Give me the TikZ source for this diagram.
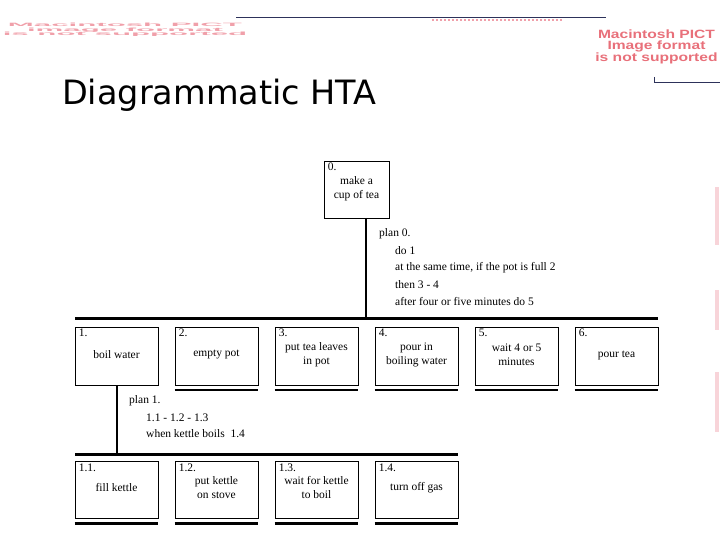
\documentclass[tikz,border=0pt]{standalone}
\usepackage{fontspec}
\setmainfont{Liberation Serif}
\newfontfamily\titlefont{DejaVu Sans}
\newfontfamily\pictfont{Liberation Sans}
\definecolor{pict}{RGB}{232,112,122}
\definecolor{pictlight}{RGB}{240,160,170}
\definecolor{navy}{RGB}{45,50,90}
\begin{document}
\begin{tikzpicture}[x=1pt,y=-1pt,
  taskbox/.style={draw, line width=0.8pt, minimum width=83pt, minimum height=58pt, inner sep=0pt},
  numlabel/.style={anchor=north west, inner sep=0pt, font=\fontsize{11.5}{14}\selectfont},
  tasktext/.style={align=center, inner sep=0pt, font=\fontsize{11.5}{14}\selectfont},
  plantext/.style={anchor=west, inner sep=0pt, font=\fontsize{11.5}{14}\selectfont},
  bar/.style={line width=3pt},
  stem/.style={line width=2.6pt},
  underline/.style={line width=2.6pt},
  picttext/.style={align=center, inner sep=0pt, text=pict, font=\pictfont\bfseries\fontsize{12}{11.5}\selectfont}
]
\useasboundingbox (0,0) rectangle (720,540);

% --- decoration from the slide (placeholder artefacts) ---
\draw[navy, line width=1.5pt] (236,17.5) -- (606,17.5);
\draw[pictlight, line width=2pt, dotted] (432,20.5) -- (562,20.5);
\node[picttext, text=pictlight, xscale=2.6, yscale=0.4] (pictL) at (125,30) {Macintosh PICT\\image format\\is not supported};
\node[picttext, xscale=1.3] (pictR) at (656.5,46.5) {Macintosh PICT\\Image format\\is not supported};
\draw[navy, line width=1pt] (654.5,77) -- (654.5,82.5) -- (720,82.5);
\foreach \ya/\yb in {187/245, 290/330, 372/432}
  \fill[pictlight, opacity=0.45] (714.5,\ya) rectangle (719,\yb);

% --- title ---
\node[anchor=base west, inner sep=0pt, font=\titlefont\fontsize{33.5}{36}\selectfont] (title) at (62,105) {Diagrammatic HTA};

% --- root ---
\node[taskbox, minimum height=57pt, minimum width=65pt] (t0) at (356.5,189.5) {};
\node[numlabel] at ([xshift=4pt,yshift=-2.5pt]t0.north west) {0.};
\node[tasktext] at (356.5,189) {make a\\cup of tea};
\coordinate (s0) at (366,218);
\coordinate (b0) at (366,318.5);
\draw[stem] (s0) -- (b0);
\coordinate (barL) at (75,318.5);
\coordinate (barR) at (658,318.5);
\draw[bar] (barL) -- (barR);

\node[plantext] (p0) at (379,234) {plan 0.};
\node[plantext] (p0a) at (395,251) {do 1};
\node[plantext] (p0b) at (395,268) {at the same time, if the pot is full 2};
\node[plantext] (p0c) at (395,285) {then 3 - 4};
\node[plantext] (p0d) at (395,302) {after four or five minutes do 5};

% --- level 1 ---
\foreach \i/\n/\t in {1/1./{boil water}, 2/2./{empty pot}, 3/3./{put tea leaves\\in pot}, 4/4./{pour in\\boiling water}, 5/5./{wait 4 or 5\\minutes}, 6/6./{pour tea}} {
  \node[taskbox] (t\i) at (16.5+100*\i,356) {};
  \node[numlabel] at ([xshift=4pt,yshift=-2.5pt]t\i.north west) {\n};
  \node[tasktext] at (16.5+100*\i,355) {\t};
}
\foreach \i in {2,...,6}
  \draw[underline] ([yshift=-4.5pt]t\i.south west) -- ([yshift=-4.5pt]t\i.south east);

\coordinate (s1) at (117,385);
\coordinate (b1) at (117,454.5);
\draw[stem] (s1) -- (b1);
\coordinate (bar1L) at (75,454.5);
\coordinate (bar1R) at (458,454.5);
\draw[bar] (bar1L) -- (bar1R);

\node[plantext] (p1) at (129,401) {plan 1.};
\node[plantext] (p1a) at (146,417.5) {1.1 - 1.2 - 1.3};
\node[plantext] (p1b) at (146,434) {when kettle boils\ \ 1.4};

% --- level 2 ---
\foreach \i/\n/\t in {1/1.1./{fill kettle}, 2/1.2./{put kettle\\on stove}, 3/1.3./{wait for kettle\\to boil}, 4/1.4./{turn off gas}} {
  \node[taskbox, minimum height=57pt] (u\i) at (16.5+100*\i,490) {};
  \node[numlabel] at ([xshift=4pt,yshift=-2.5pt]u\i.north west) {\n};
  \node[tasktext] at (16.5+100*\i,488) {\t};
}
\foreach \i in {1,...,4}
  \draw[underline] ([yshift=-4.5pt]u\i.south west) -- ([yshift=-4.5pt]u\i.south east);
\end{tikzpicture}
\end{document}
